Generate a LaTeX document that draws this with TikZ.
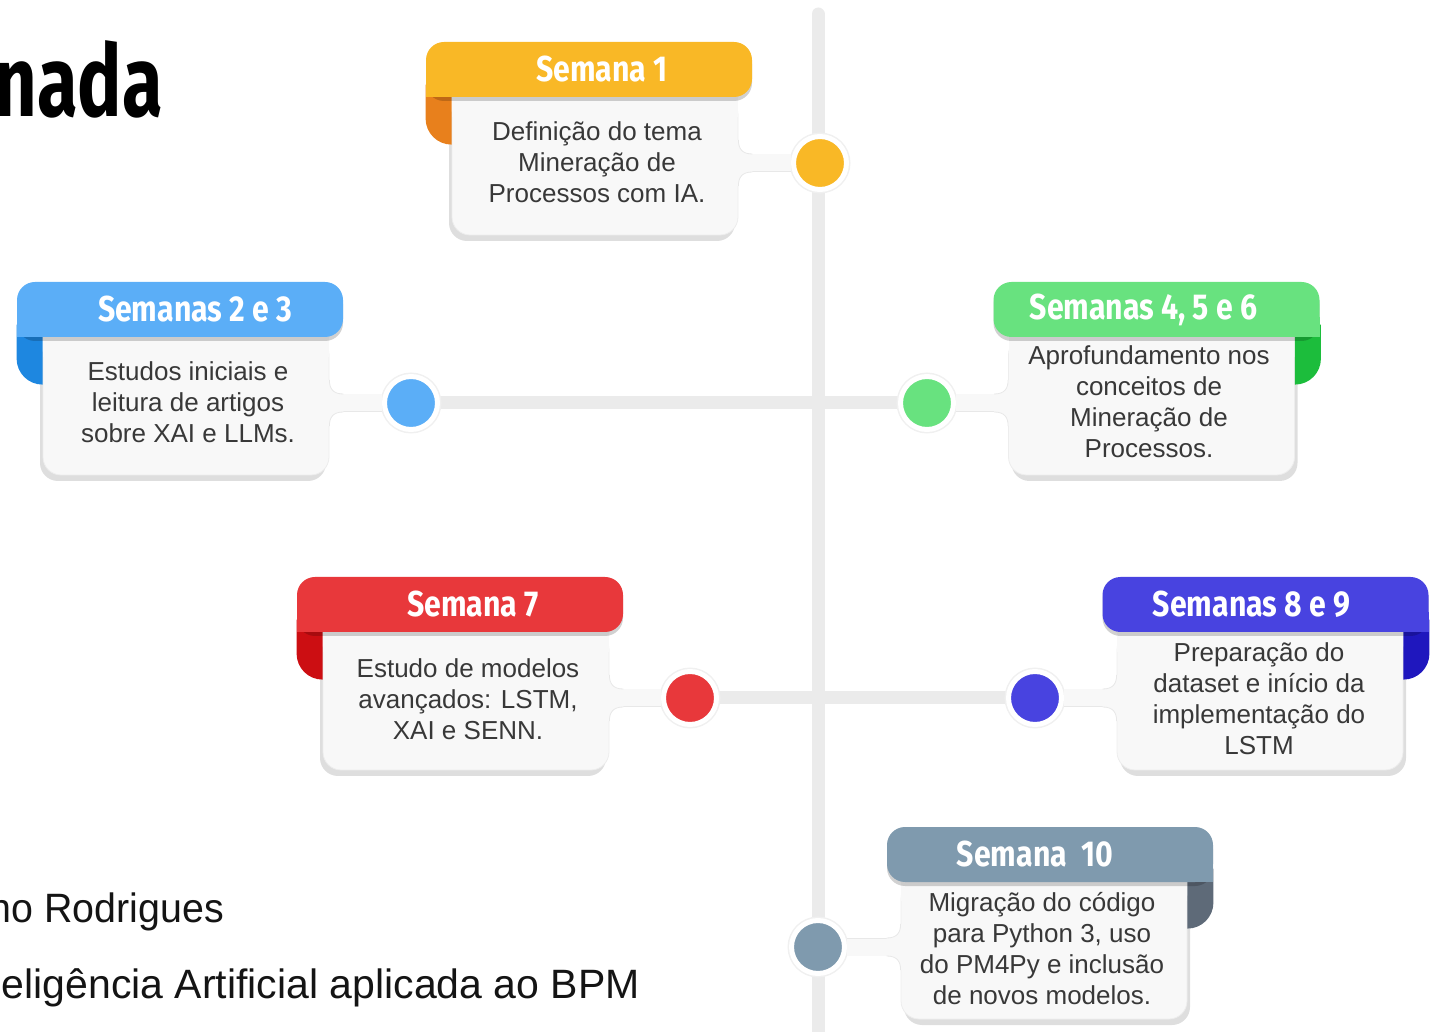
\documentclass[tikz,border=0pt]{standalone}
\usepackage{fontspec}
\setmainfont{Liberation Sans}
\newfontfamily\headfont[FakeStretch=0.84]{Fira Sans}
\newfontfamily\titlefont[FakeStretch=0.74]{Fira Sans}
\newfontfamily\namefont[FakeStretch=0.96]{Liberation Sans}
\usepackage{tikz}
\usetikzlibrary{calc,shadows,backgrounds}

\definecolor{trackgray}{HTML}{EBEBEB}
\definecolor{cardfill}{HTML}{F8F8F8}
\definecolor{inkgray}{HTML}{383838}
\definecolor{yellowhead}{HTML}{F9B826}
\definecolor{yellowfold}{HTML}{E8801C}
\definecolor{bluehead}{HTML}{5BAEF7}
\definecolor{bluefold}{HTML}{1E87E0}
\definecolor{greenhead}{HTML}{68E27F}
\definecolor{greenfold}{HTML}{1CBD3C}
\definecolor{redhead}{HTML}{E8383B}
\definecolor{redfold}{HTML}{CC0E12}
\definecolor{indigohead}{HTML}{4843E0}
\definecolor{indigofold}{HTML}{1F17BE}
\definecolor{slatehead}{HTML}{7F9AAE}
\definecolor{slatefold}{HTML}{5E6A78}

\begin{document}
\begin{tikzpicture}[x=1pt, y=1pt]
        \tikzstyle{track} = [draw=trackgray, line width=13pt]
        \tikzstyle{milestone} = [circle, minimum size=53pt, inner sep=0pt, draw=white, line width=5pt, preaction={draw=black!6, line width=8pt}]
        \tikzstyle{card} = [rectangle, rounded corners=18pt, minimum width=286pt, minimum height=138pt, inner sep=0pt, fill=cardfill, draw=black!7, line width=0.8pt]
        \tikzstyle{shadowL} = [drop shadow={shadow xshift=-3pt, shadow yshift=-6pt, opacity=1, fill=black!13}]
        \tikzstyle{shadowR} = [drop shadow={shadow xshift=3pt, shadow yshift=-6pt, opacity=1, fill=black!13}]
        \tikzstyle{head} = [rectangle, rounded corners=18pt, minimum width=326pt, minimum height=55pt, inner sep=0pt, drop shadow={shadow xshift=0pt, shadow yshift=-4pt, opacity=0.18, fill=black}]
        \tikzstyle{headtext} = [text=white, inner sep=0pt, font=\headfont\bfseries\fontsize{36}{40}\selectfont]
        \tikzstyle{cardtext} = [align=center, text=inkgray, inner sep=0pt, font=\fontsize{26}{31}\selectfont]
        \tikzstyle{stem} = [draw=black!9, line width=0.8pt, double=cardfill, double distance=17pt]
        \tikzset{
            fillet/.pic={
                \fill[cardfill] (-2,23) -- (0,23) .. controls (0,14) and (4,9) .. (14,9) -- (14,-9) .. controls (4,-9) and (0,-14) .. (0,-23) -- (-2,-23) -- cycle;
                \draw[black!9, line width=0.8pt] (0,23) .. controls (0,14) and (4,9) .. (14,9);
                \draw[black!9, line width=0.8pt] (14,-9) .. controls (4,-9) and (0,-14) .. (0,-23);
            },
            fold/.pic={
                \fill (0,12) -- (-26,12) -- (-26,-22) .. controls (-26,-36.4) and (-14.4,-48) .. (0,-48) -- cycle;
            }
        }

        \useasboundingbox (0,0) rectangle (1445,1031);

        % milestones on the timeline
        \node[milestone, fill=yellowhead] (d1) at (820,868) {};
        \node[milestone, fill=bluehead] (d2) at (411,628) {};
        \node[milestone, fill=greenhead] (d3) at (927,628) {};
        \node[milestone, fill=redhead] (d4) at (690,333) {};
        \node[milestone, fill=indigohead] (d5) at (1035,333) {};
        \node[milestone, fill=slatehead] (d6) at (818,84) {};
        \coordinate (linetop) at (818,1017);
        \coordinate (linebottom) at (818,-10);

        \begin{scope}[on background layer]
            \draw[track, line cap=round] (linetop) -- (linebottom);
            \draw[track] (d2) -- (d3);
            \draw[track] (d4) -- (d5);
        \end{scope}

        % Semana 1
        \node[card, shadowL] (b1) at (595,865) {};
        \fill[cardfill] ($(b1.north west)+(0.4,0)$) rectangle ($(b1.north east)+(-0.4,-20)$);
        \pic[color=yellowfold] at (b1.north west) {fold};
        \node[head, fill=yellowhead] (h1) at (589,961.5) {};
        \fill[yellowhead] (h1.south west) rectangle ++(20,20);
        \node[headtext] (l1) at ([xshift=13pt]h1.center) {Semana 1};
        \draw[stem] (b1.east |- d1) -- (d1);
        \pic at (b1.east |- d1) {fillet};
        \node[cardtext] (t1) at (597,869) {Definição do tema\\Mineração de\\Processos com IA.};

        % Semanas 2 e 3
        \node[card, shadowL] (b2) at (186,625) {};
        \fill[cardfill] ($(b2.north west)+(0.4,0)$) rectangle ($(b2.north east)+(-0.4,-20)$);
        \pic[color=bluefold] at (b2.north west) {fold};
        \node[head, fill=bluehead] (h2) at (180,721.5) {};
        \fill[bluehead] (h2.south west) rectangle ++(20,20);
        \node[headtext] (l2) at ([xshift=15pt]h2.center) {Semanas 2 e 3};
        \draw[stem] (b2.east |- d2) -- (d2);
        \pic at (b2.east |- d2) {fillet};
        \node[cardtext] (t2) at (188,629) {Estudos iniciais e\\leitura de artigos\\sobre XAI e LLMs.};

        % Semanas 4, 5 e 6
        \node[card, shadowR] (b3) at (1151.5,625) {};
        \fill[cardfill] ($(b3.north west)+(0.4,0)$) rectangle ($(b3.north east)+(-0.4,-20)$);
        \pic[color=greenfold, xscale=-1] at (b3.north east) {fold};
        \node[head, fill=greenhead] (h3) at (1156.5,721.5) {};
        \fill[greenhead] (h3.south east) rectangle ++(-20,20);
        \node[headtext] (l3) at ([xshift=-13pt]h3.center) {Semanas 4, 5 e 6};
        \draw[stem] (b3.west |- d3) -- (d3);
        \pic[xscale=-1] at (b3.west |- d3) {fillet};
        \node[cardtext] (t3) at (1149,629.5) {Aprofundamento nos\\conceitos de\\Mineração de\\Processos.};

        % Semana 7
        \node[card, shadowL] (b4) at (466,330) {};
        \fill[cardfill] ($(b4.north west)+(0.4,0)$) rectangle ($(b4.north east)+(-0.4,-20)$);
        \pic[color=redfold] at (b4.north west) {fold};
        \node[head, fill=redhead] (h4) at (460,426.5) {};
        \fill[redhead] (h4.south west) rectangle ++(20,20);
        \node[headtext] (l4) at ([xshift=13pt]h4.center) {Semana 7};
        \draw[stem] (b4.east |- d4) -- (d4);
        \pic at (b4.east |- d4) {fillet};
        \node[cardtext] (t4) at (468,332) {Estudo de modelos\\avançados: LSTM,\\XAI e SENN.};

        % Semanas 8 e 9
        \node[card, shadowR] (b5) at (1260,330) {};
        \fill[cardfill] ($(b5.north west)+(0.4,0)$) rectangle ($(b5.north east)+(-0.4,-20)$);
        \pic[color=indigofold, xscale=-1] at (b5.north east) {fold};
        \node[head, fill=indigohead] (h5) at (1265.5,426.5) {};
        \fill[indigohead] (h5.south east) rectangle ++(-20,20);
        \node[headtext] (l5) at ([xshift=-14pt]h5.center) {Semanas 8 e 9};
        \draw[stem] (b5.west |- d5) -- (d5);
        \pic[xscale=-1] at (b5.west |- d5) {fillet};
        \node[cardtext] (t5) at (1259,332.5) {Preparação do\\dataset e início da\\implementação do\\LSTM};

        % Semana 10
        \node[card, shadowR] (b6) at (1044,81) {};
        \fill[cardfill] ($(b6.north west)+(0.4,0)$) rectangle ($(b6.north east)+(-0.4,-20)$);
        \pic[color=slatefold, xscale=-1] at (b6.north east) {fold};
        \node[head, fill=slatehead] (h6) at (1050,176.5) {};
        \fill[slatehead] (h6.south east) rectangle ++(-20,20);
        \node[headtext] (l6) at ([xshift=-15pt]h6.center) {Semana~~10};
        \draw[stem] (b6.west |- d6) -- (d6);
        \pic[xscale=-1] at (b6.west |- d6) {fillet};
        \node[cardtext] (t6) at (1042,82.5) {Migração do código\\para Python 3, uso\\do PM4Py e inclusão\\de novos modelos.};

        % cut-off slide texts
        \node[anchor=base east, inner sep=0pt, font=\titlefont\bfseries\fontsize{100}{100}\selectfont] (title) at (163,914) {nada};
        \node[anchor=base east, inner sep=0pt, text=black!92, font=\namefont\fontsize{41}{48}\selectfont] (author) at (224,109) {no Rodrigues};
        \node[anchor=base east, inner sep=0pt, text=black!92, font=\fontsize{41}{48}\selectfont] (course) at (640,33) {eligência Artificial aplicada ao BPM};
    \end{tikzpicture}
\end{document}
